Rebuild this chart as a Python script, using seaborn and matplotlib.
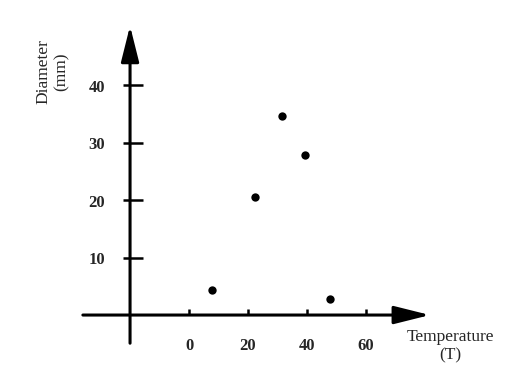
import matplotlib
matplotlib.use("Agg")
import matplotlib.pyplot as plt
import seaborn as sns
import pandas as pd

# ---------------------------
# DATA
# ---------------------------
temperature = [7.8, 22.4, 31.5, 39.3, 47.8]
diameter = [4.3, 20.5, 34.6, 27.8, 2.8]
x_ticks = [0, 20, 40, 60]
y_ticks = [10, 20, 30, 40]

df = pd.DataFrame({"Temperature": temperature, "Diameter": diameter})

sns.set_style("white")
plt.rcParams["font.family"] = ["Liberation Serif", "DejaVu Serif"]

fig = plt.figure(figsize=(5.19, 3.80), dpi=100)
ax = fig.add_axes([0, 0, 1, 1])
ax.set_xlim(-64.1, 111.9)
ax.set_ylim(-11.3, 54.8)
ax.axis("off")

# ---------------------------
# AXES WITH ARROWS
# ---------------------------
y_axis_x = -20
arrow = dict(arrowstyle="-|>,head_length=2.2,head_width=0.55", lw=2.2,
             color="black", mutation_scale=10, shrinkA=0, shrinkB=0)
ax.annotate("", xy=(81.7, 0), xytext=(-36, 0), arrowprops=arrow)
ax.annotate("", xy=(y_axis_x, 50.3), xytext=(y_axis_x, -4.9), arrowprops=arrow)

# tick marks
ax.hlines(y_ticks, -22.4, -15.5, color="black", lw=1.8)
ax.vlines(x_ticks, 0, 1.0, color="black", lw=1.8)

# tick labels
for t in y_ticks:
    ax.text(-28.5, t - 0.5, str(t), ha="right", va="center",
            fontsize=12, fontweight="bold")
for t in x_ticks:
    ax.text(t, -5.4, str(t), ha="center", va="center",
            fontsize=12, fontweight="bold")

# axis titles
ax.text(-46.4, 42.3, "Diameter\n(mm)", rotation=90, ha="center", va="center",
        multialignment="center", fontsize=12.5, linespacing=1.2)
ax.text(88.5, -5.4, "Temperature\n(T)", ha="center", va="center",
        multialignment="center", fontsize=12.5, linespacing=1.2)

# ---------------------------
# SCATTER POINTS
# ---------------------------
sns.scatterplot(data=df, x="Temperature", y="Diameter", ax=ax,
                color="black", s=36, edgecolor="black", linewidth=0, zorder=3)

fig.savefig("out.png", dpi=100)
